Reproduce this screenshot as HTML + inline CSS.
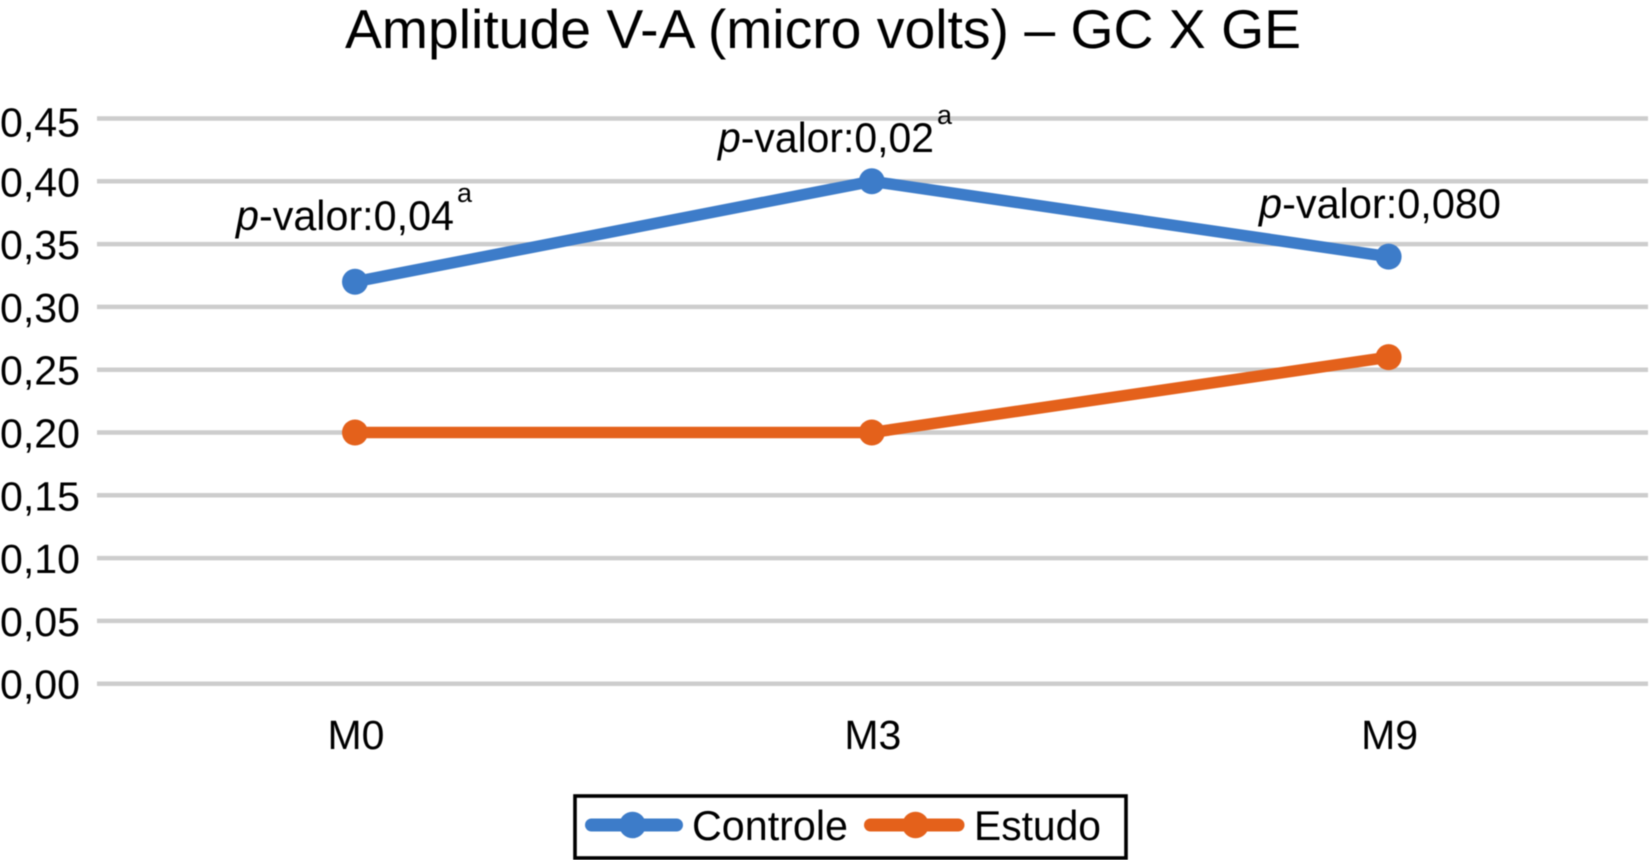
<!DOCTYPE html>
<html lang="pt">
<head>
<meta charset="utf-8">
<title>Amplitude V-A (micro volts) – GC X GE</title>
<style>
html,body{margin:0;padding:0;background:#fff;width:1649px;height:860px;overflow:hidden}
svg{display:block;font-family:"Liberation Sans",sans-serif;fill:#000;filter:blur(0.4px)}
</style>
</head>
<body>
<svg id="chart" xmlns="http://www.w3.org/2000/svg" width="1649" height="860" viewBox="0 0 1649 860">
  <rect x="0" y="0" width="1649" height="860" fill="#fff"/>
  <text x="345" y="48" font-size="54.5" textLength="956" lengthAdjust="spacingAndGlyphs">Amplitude V-A (micro volts) – GC X GE</text>
  <g id="grid"></g>
  <g id="yticks"></g>
  <g id="xticks"></g>
  <g id="series"></g>
  <g font-size="41.5">
    <text x="236" y="230" textLength="218" lengthAdjust="spacingAndGlyphs"><tspan font-style="italic">p</tspan>-valor:0,04</text>
    <text x="457" y="202" font-size="27">a</text>
    <text x="718" y="152" textLength="216" lengthAdjust="spacingAndGlyphs"><tspan font-style="italic">p</tspan>-valor:0,02</text>
    <text x="937" y="124" font-size="27">a</text>
    <text x="1259" y="218" textLength="242" lengthAdjust="spacingAndGlyphs"><tspan font-style="italic">p</tspan>-valor:0,080</text>
  </g>
  <g>
    <rect x="575" y="796" width="551" height="62" fill="#fff" stroke="#000" stroke-width="3.6"/>
    <g>
      <line x1="591.5" y1="825" x2="676.5" y2="825" stroke="#3d7cc9" stroke-width="13" stroke-linecap="round"/>
      <circle cx="632.5" cy="825" r="13.3" fill="#3d7cc9"/>
      <text x="692" y="840" font-size="42" textLength="156" lengthAdjust="spacingAndGlyphs">Controle</text>
    </g>
    <g>
      <line x1="870.5" y1="825" x2="958" y2="825" stroke="#e4611b" stroke-width="13" stroke-linecap="round"/>
      <circle cx="915.5" cy="825" r="13.3" fill="#e4611b"/>
      <text x="974" y="840" font-size="42" textLength="127" lengthAdjust="spacingAndGlyphs">Estudo</text>
    </g>
  </g>
</svg>
<script>
const categories = ['M0', 'M3', 'M9'];
const controleValues = [0.32, 0.40, 0.34];
const estudoValues = [0.20, 0.20, 0.26];
const yTickValues = [0.45, 0.40, 0.35, 0.30, 0.25, 0.20, 0.15, 0.10, 0.05, 0.00];
const yTickLabels = ['0,45', '0,40', '0,35', '0,30', '0,25', '0,20', '0,15', '0,10', '0,05', '0,00'];

const NS = 'http://www.w3.org/2000/svg';
const yMax = 0.45;
const plotBottom = 683.7;
const plotTop = 118.5;
const firstX = 355;
const stepX = 516.8;
function yScale(v) { return plotBottom - (v / yMax) * (plotBottom - plotTop); }
function xScale(i) { return firstX + i * stepX; }
function make(tag, props) {
  const el = document.createElementNS(NS, tag);
  for (const k in props) el.setAttribute(k, props[k]);
  return el;
}

const gridLayer = document.getElementById('grid');
const yLayer = document.getElementById('yticks');
yTickValues.forEach(function (v, i) {
  const line = make('line', { x1: 97, x2: 1648, y1: yScale(v), y2: yScale(v), stroke: '#cdcdcd', 'stroke-width': 4.5 });
  
  
  gridLayer.appendChild(line);
  const baseline = yScale(v) + (i === 0 ? 18 : 15);
  const label = make('text', { x: 0, y: baseline, 'font-size': 40.5, textLength: 80, lengthAdjust: 'spacingAndGlyphs' });
  label.textContent = yTickLabels[i];
  
  
  yLayer.appendChild(label);
});

const xLayer = document.getElementById('xticks');
categories.forEach(function (c, i) {
  const label = make('text', { x: xScale(i) + 1, y: 749, 'font-size': 41, 'text-anchor': 'middle' });
  label.textContent = c;
  
  
  xLayer.appendChild(label);
});

const seriesLayer = document.getElementById('series');
function drawSeries(values, color) {
  const pts = values.map(function (v, i) { return xScale(i) + ',' + yScale(v); }).join(' ');
  const path = make('polyline', { points: pts, fill: 'none', stroke: color, 'stroke-width': 11.5, 'stroke-linejoin': 'round' });
  
  
  seriesLayer.appendChild(path);
  values.forEach(function (v, i) {
    const dot = make('circle', { cx: xScale(i), cy: yScale(v), r: 13, fill: color });
    
    
    seriesLayer.appendChild(dot);
  });
}
drawSeries(controleValues, '#3d7cc9');
drawSeries(estudoValues, '#e4611b');
</script>
</body>
</html>
